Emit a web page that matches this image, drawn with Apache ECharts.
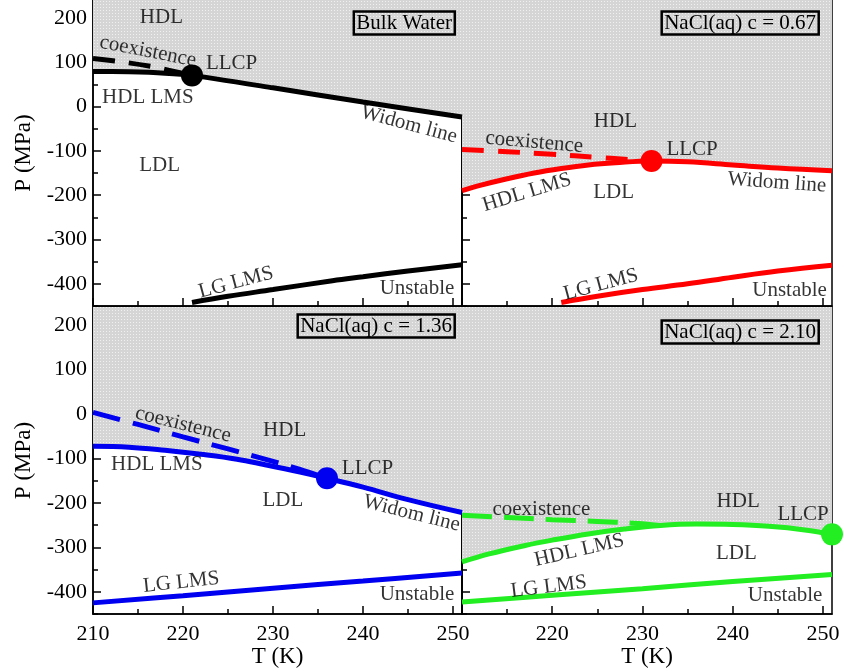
<!DOCTYPE html>
<html>
<head>
<meta charset="utf-8">
<script src="https://cdn.jsdelivr.net/npm/echarts@6/dist/echarts.min.js"></script>
<style>
html,body{margin:0;padding:0;background:#fff;}
#chart{width:844px;height:672px;}
</style>
</head>
<body>
<div id="chart"></div>
<script>
// ---------- DATA ----------
const xMajor = [210, 220, 230, 240, 250];
const xMinor = [215, 225, 235, 245];
const xLabelsLeft = [210, 220, 230, 240, 250];
const xLabelsRight = [220, 230, 240, 250];
const yMajor = [-400, -300, -200, -100, 0, 100, 200];
const yMinor = [-450, -350, -250, -150, -50, 50, 150];

const panelTitles = ['Bulk Water', 'NaCl(aq) c = 0.67', 'NaCl(aq) c = 1.36', 'NaCl(aq) c = 2.10'];
const panelColors = ['#000000', '#ff0000', '#0000f0', '#22ee22'];

// Bulk water
const bulkHdlLms = [[210,79],[214,78],[218,75],[221,70],[230,42],[240,10],[251,-24]];
const bulkCoex = [[210,108],[213,101],[216.5,90],[219,79],[221,70]];
const bulkLgLms = [[221,-442],[225,-428],[230,-413],[236.6,-393],[240,-384],[245,-371],[251,-357]];
const bulkLLCP = [[221,70]];

// NaCl c = 0.67
const c067HdlLms = [[210,-190],[212,-178],[215,-163],[218,-150],[221,-140],[224,-132],[227,-127],[231,-123],[235,-125],[240,-132],[245,-139],[251,-145]];
const c067Coex = [[210,-97],[215,-102],[220,-108],[225,-115],[228,-119],[231,-123]];
const c067LgLms = [[221,-442],[225,-428],[230,-413],[235,-400],[240,-385],[245,-371],[251,-358]];
const c067LLCP = [[231,-123]];

// NaCl c = 1.36
const c136HdlLms = [[210,-73],[214,-75],[218,-82],[222,-91],[226,-102],[229,-114],[233,-131],[236,-145],[240,-165],[245,-193],[251,-222]];
const c136Coex = [[210,3],[215,-24],[220,-52],[225,-79],[230,-107],[233,-125],[236,-145]];
const c136LgLms = [[210,-425],[220,-409],[230,-392],[240,-376],[251,-358]];
const c136LLCP = [[236,-145]];

// NaCl c = 2.10
const c210HdlLms = [[210,-333],[213,-315],[217,-296],[220,-284],[224,-270],[228,-259],[232,-251],[236,-248],[240,-249],[244,-253],[248,-261],[251,-271]];
const c210Coex = [[210,-228],[215,-233],[220,-238],[225,-242],[229,-246],[232,-251]];
const c210LgLms = [[210,-423],[220,-408],[230,-393],[240,-377],[251,-361]];
const c210LLCP = [[251,-271]];

// annotation texts: [T, P, text, rotation]
const bulkNotes = [[217.6,201,'HDL',0],[216.1,124,'coexistence',-11],[225.4,97,'LLCP',0],[216.1,21,'HDL LMS',0],[217.4,-133,'LDL',0],[245.1,-41,'Widom line',-15],[225.9,-397,'LG LMS',15],[246,-411,'Unstable',0]];
const c067Notes = [[227,-34,'HDL',0],[218,-81,'coexistence',-5],[235.5,-98,'LLCP',0],[217.2,-194,'HDL LMS',17],[226.8,-195,'LDL',0],[244.9,-172,'Widom line',-4],[225.4,-402,'LG LMS',15],[246.3,-415,'Unstable',0]];
const c136Notes = [[220,-24,'coexistence',-14],[231.3,-37,'HDL',0],[217.1,-115,'HDL LMS',0],[240.5,-122,'LLCP',0],[231.1,-195,'LDL',0],[245.4,-224,'Widom line',-14],[219.8,-379,'LG LMS',6],[246,-407,'Unstable',0]];
const c210Notes = [[218.8,-214,'coexistence',0],[240.6,-196,'HDL',0],[247.8,-227,'LLCP',0],[223,-307,'HDL LMS',13],[240.4,-313,'LDL',0],[219.6,-389,'LG LMS',7],[245.8,-408,'Unstable',0]];

const panels = [
  {hdl: bulkHdlLms, coex: bulkCoex, lg: bulkLgLms, llcp: bulkLLCP, notes: bulkNotes, dash: [22,14], hdlSmooth: 0.2},
  {hdl: c067HdlLms, coex: c067Coex, lg: c067LgLms, llcp: c067LLCP, notes: c067Notes, dash: [22,14], hdlSmooth: 0.4},
  {hdl: c136HdlLms, coex: c136Coex, lg: c136LgLms, llcp: c136LLCP, notes: c136Notes, dash: [28,13], hdlSmooth: 0.4},
  {hdl: c210HdlLms, coex: c210Coex, lg: c210LgLms, llcp: c210LLCP, notes: c210Notes, dash: [30,12], hdlSmooth: 0.4}
];

// ---------- LAYOUT / STYLE ----------
const FONT = "'Liberation Serif', 'Times New Roman', serif";
const LW = 5;
const grids = [
  {left: 93, top: 0, width: 369, height: 306},
  {left: 462, top: 0, width: 370, height: 306},
  {left: 93, top: 307, width: 369, height: 307},
  {left: 462, top: 307, width: 370, height: 307}
];

// dotted gray pattern
const pc = document.createElement('canvas');
pc.width = 3; pc.height = 3;
const pctx = pc.getContext('2d');
pctx.fillStyle = '#d5d5d5'; pctx.fillRect(0,0,3,3);
pctx.fillStyle = '#f0f0f0'; pctx.fillRect(1,1,1,1);
const grayPattern = {image: pc, repeat: 'repeat'};

const xAxes = [], yAxes = [], series = [], titles = [];
const titleBoxes = [
  {right: 389, top: 11},
  {right: 25, top: 11},
  {right: 389, top: 314},
  {right: 25, top: 320}
];

grids.forEach((g, i) => {
  const isBottom = i >= 2, isLeft = (i % 2 === 0);
  xAxes.push({
    gridIndex: i, type: 'value', min: 210, max: 251, position: 'bottom',
    axisLine: {show: true, onZero: false, lineStyle: {color: '#000', width: 1.5}},
    axisTick: {show: true, inside: true, length: 8, customValues: xMajor, lineStyle: {color: '#000', width: 1.5}},
    axisLabel: {show: isBottom, customValues: isLeft ? xLabelsLeft : xLabelsRight, margin: 9,
      color: '#000', fontFamily: FONT, fontSize: 22},
    splitLine: {show: false},
    name: isBottom ? 'T (K)' : '', nameLocation: 'middle', nameGap: 31,
    nameTextStyle: {color: '#000', fontFamily: FONT, fontSize: 23}
  });
  xAxes.push({
    gridIndex: i, type: 'value', min: 210, max: 251, position: 'bottom',
    axisLine: {show: false, onZero: false},
    axisTick: {show: true, inside: true, length: 5, customValues: xMinor, lineStyle: {color: '#000', width: 1.5}},
    axisLabel: {show: false}, splitLine: {show: false}
  });
  yAxes.push({
    gridIndex: i, type: 'value', min: -450, max: 240, position: 'left',
    axisLine: {show: true, onZero: false, lineStyle: {color: '#000', width: 1.5}},
    axisTick: {show: true, inside: true, length: 8, customValues: yMajor, lineStyle: {color: '#000', width: 1.5}},
    axisLabel: {show: isLeft, customValues: yMajor, margin: 6, color: '#000', fontFamily: FONT, fontSize: 22},
    splitLine: {show: false},
    name: isLeft ? 'P (MPa)' : '', nameLocation: 'middle', nameGap: 58,
    nameTextStyle: {color: '#000', fontFamily: FONT, fontSize: 23}
  });
  yAxes.push({
    gridIndex: i, type: 'value', min: -450, max: 240, position: 'left',
    axisLine: {show: false, onZero: false},
    axisTick: {show: true, inside: true, length: 5, customValues: yMinor, lineStyle: {color: '#000', width: 1.5}},
    axisLabel: {show: false}, splitLine: {show: false}
  });

  const p = panels[i], col = panelColors[i];
  const xi = 2 * i, yi = 2 * i;
  series.push({
    type: 'line', xAxisIndex: xi, yAxisIndex: yi, data: p.hdl, smooth: p.hdlSmooth,
    showSymbol: false, lineStyle: {color: col, width: LW},
    areaStyle: {color: grayPattern, origin: 'end', opacity: 1}, z: 2, silent: true
  });
  series.push({
    type: 'line', xAxisIndex: xi, yAxisIndex: yi, data: p.coex, smooth: 0.4,
    showSymbol: false, lineStyle: {color: col, width: LW, type: p.dash}, z: 3, silent: true
  });
  series.push({
    type: 'line', xAxisIndex: xi, yAxisIndex: yi, data: p.lg, smooth: 0.4,
    showSymbol: false, lineStyle: {color: col, width: LW}, z: 3, silent: true
  });
  series.push({
    type: 'scatter', xAxisIndex: xi, yAxisIndex: yi, data: p.llcp, symbol: 'circle', symbolSize: 22,
    itemStyle: {color: col, opacity: 1}, z: 4, silent: true, clip: false
  });
  series.push({
    type: 'scatter', xAxisIndex: xi, yAxisIndex: yi, symbolSize: 2, silent: true, z: 5,
    data: p.notes.map(n => ({value: [n[0], n[1]], name: n[2],
      label: {show: true, position: 'inside', rotate: n[3], formatter: n[2],
        color: '#000', fontFamily: FONT, fontSize: 21}})),
    itemStyle: {color: 'rgba(0,0,0,0)'},
    label: {show: true}
  });

  titles.push({
    text: panelTitles[i], right: titleBoxes[i].right, top: titleBoxes[i].top,
    borderColor: '#000', borderWidth: 2.5, padding: [2, 3, 1, 3],
    textStyle: {color: '#000', fontFamily: FONT, fontSize: 21, fontWeight: 'normal', lineHeight: 21}
  });
});

const chart = echarts.init(document.getElementById('chart'), null, {renderer: 'canvas'});
chart.setOption({
  animation: false,
  backgroundColor: '#fff',
  title: titles,
  grid: grids.map(g => Object.assign({show: true, borderColor: '#000', borderWidth: 1.5, backgroundColor: 'transparent', containLabel: false}, g)),
  xAxis: xAxes,
  yAxis: yAxes,
  series: series
});
</script>
</body>
</html>
